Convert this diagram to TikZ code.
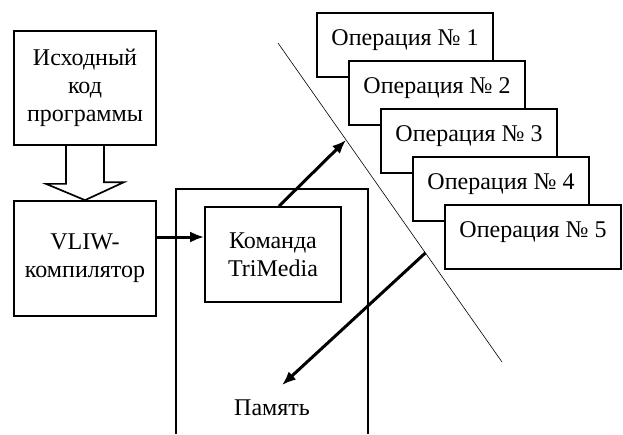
\documentclass[tikz,border=0pt]{standalone}
\usepackage{fontspec}
\setmainfont{Liberation Serif}
\usepackage{tikz}
\usetikzlibrary{calc}
\usetikzlibrary{arrows}
\usetikzlibrary{arrows.meta}
\tikzset{>=latex}
\tikzstyle{blk} = [draw, line width=1.7pt, align=center, inner sep=1, font=\fontsize{24}{28}\selectfont]
\tikzstyle{oper} = [blk, fill=white, minimum width=176pt, minimum height=64pt, text height=12pt, text depth=12pt]
\tikzstyle{flow} = [-{Latex[length=14pt, width=11pt]}, line width=3pt]

\begin{document}
\begin{tikzpicture}[x=1pt, y=-1pt]
\useasboundingbox (0,0) rectangle (623,434);
\node [blk, minimum width=142pt, minimum height=114pt] (src) at (85,88) {Исходный\\код\\программы};
\node [blk, minimum width=142pt, minimum height=115pt] (vliw) at (85,258.5) {VLIW-\\компилятор};
\draw [line width=1.7pt] ([xshift=-19pt]src.south) -- ++(0,38) -- ++(-20,0) -- (vliw.north) -- ++(39,-18) -- ++(-20,0) -- ([xshift=19pt]src.south);
\draw [line width=1.7pt] (176,434) -- (176,189) -- (368,189) -- (368,434);
\node [blk, minimum width=136pt, minimum height=95pt] (cmd) at (273,254.5) {Команда\\TriMedia};
\node [inner sep=0, anchor=base, font=\fontsize{24}{28}\selectfont] (mem) at (272,415) {Память};
\foreach \i in {1,...,5}
  \node [oper] (op\i) at ({405+32*(\i-1)}, {45+48*(\i-1)}) {Операция № \i};
\coordinate (cutA) at (278,43);
\coordinate (cutB) at (502,362);
\draw [line width=0.6pt] (cutA) -- (cutB);
\coordinate (cutUp) at ($(cutA)!0.304!(cutB)$);
\coordinate (cutDn) at ($(cutA)!0.658!(cutB)$);
\coordinate (vout) at ([yshift=21.5pt]vliw.east);
\draw [flow] (vout) -- (vout -| cmd.west);
\draw [flow] ([xshift=6pt]cmd.north) -- (cutUp);
\draw [flow] (cutDn) -- ([xshift=10pt,yshift=14pt]mem.north);
\end{tikzpicture}
\end{document}
